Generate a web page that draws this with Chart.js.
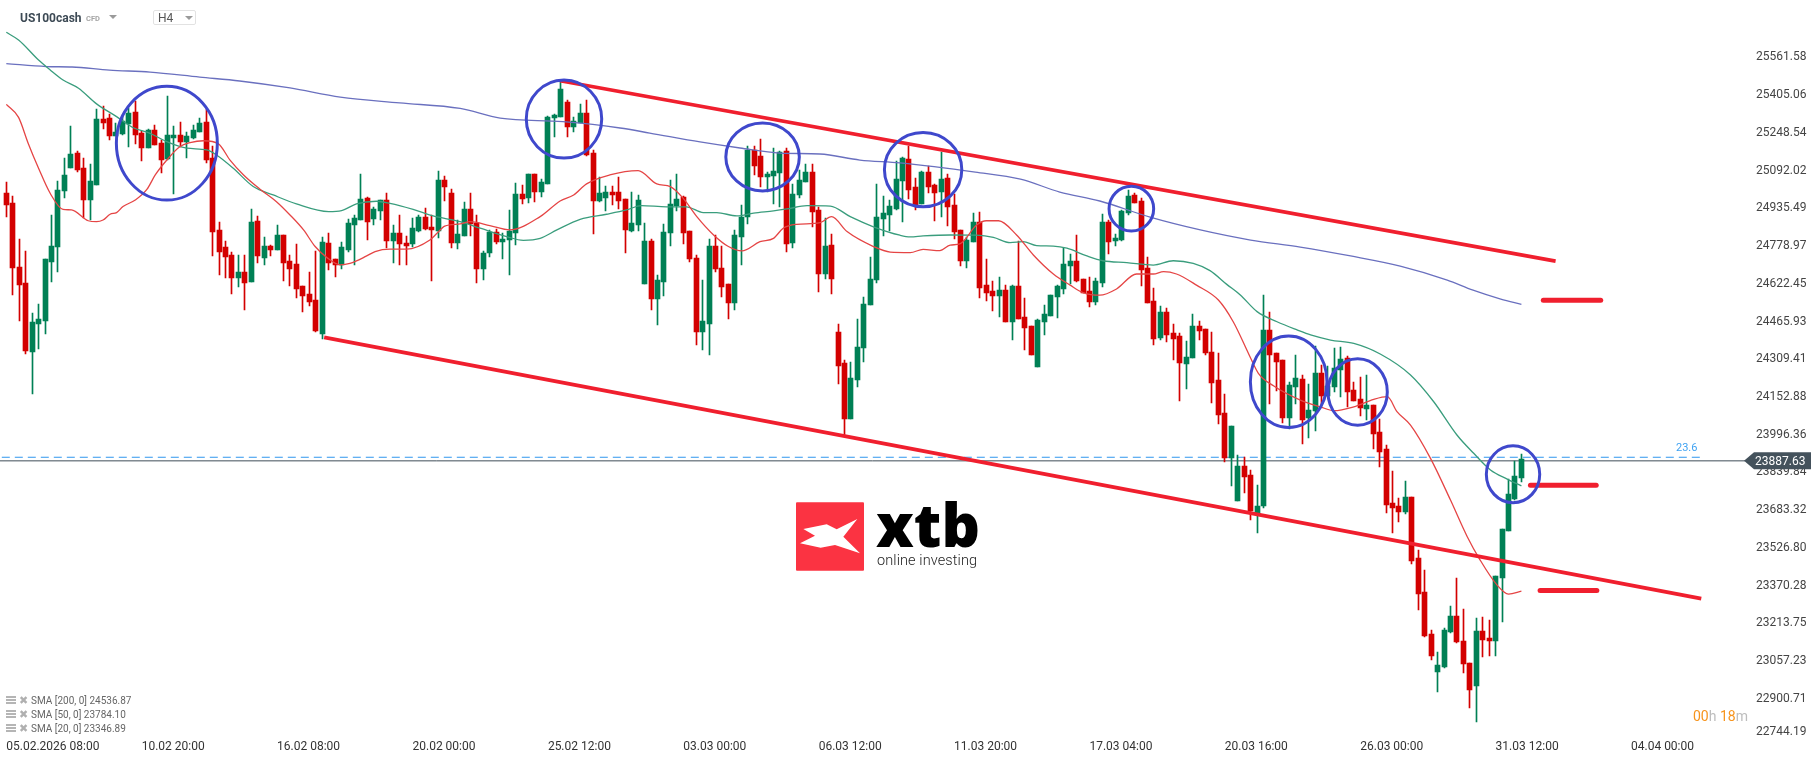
<!DOCTYPE html>
<html>
<head>
<meta charset="utf-8">
<title>US100cash H4</title>
<script src="https://cdn.jsdelivr.net/npm/chart.js@4/dist/chart.umd.min.js"></script>
<style>
    html, body { margin: 0; padding: 0; background: #fff; overflow: hidden; }
    #wrap { position: relative; width: 1816px; height: 761px; font-family: Roboto, sans-serif; }
    #wrap canvas { position: absolute; left: 0; top: 0; }
    .abs { position: absolute; white-space: nowrap; }
    .tri { position: absolute; width: 0; height: 0; border-left: 4px solid transparent; border-right: 4px solid transparent; border-top: 4px solid #9a9a9a; }
    .sma-row { position: absolute; left: 6px; height: 14px; line-height: 14px; font-size: 10px; color: #666; white-space: nowrap; }
    .sma-row .bars { position: absolute; left: 0; top: 2px; width: 10px; height: 2px; background: #b5b5b5; box-shadow: 0 3px 0 #b5b5b5, 0 6px 0 #b5b5b5; }
    .sma-row .cross { position: absolute; left: 13px; top: 0; color: #b0b0b0; font: 11px "DejaVu Sans"; line-height: 14px; }
    .sma-row .txt { position: absolute; left: 25px; top: 0; }
</style>
</head>
<body>
<div id="wrap">
    <canvas id="chart" width="1816" height="761"></canvas>

    <div class="abs" style="left:20px; top:10px; font-size:12px; font-weight:700; color:#3d4a55; line-height:17px;">US100cash</div>
    <div class="abs" style="left:86px; top:14px; font-size:7.5px; font-weight:700; color:#a5a5a5; line-height:10px;">CFD</div>
    <div class="tri" style="left:109px; top:15px;"></div>
    <div class="abs" style="left:153px; top:10px; width:43px; height:15px; border:1px solid #e2e2e2; border-radius:2px; box-sizing:border-box;"></div>
    <div class="abs" style="left:158px; top:11px; font-size:12px; color:#555; line-height:15px;">H4</div>
    <div class="tri" style="left:185px; top:16px;"></div>

    <div class="sma-row" style="top:694px;"><span class="bars"></span><span class="cross">✖</span><span class="txt">SMA [200, 0] 24536.87</span></div>
    <div class="sma-row" style="top:708px;"><span class="bars"></span><span class="cross">✖</span><span class="txt">SMA [50, 0] 23784.10</span></div>
    <div class="sma-row" style="top:722px;"><span class="bars"></span><span class="cross">✖</span><span class="txt">SMA [20, 0] 23346.89</span></div>

    <div class="abs" style="left:1676px; top:441px; font-size:11px; color:#3fa2f2; line-height:14px;">23.6</div>

    <div class="abs" style="left:1693px; top:707px; font-size:14px; line-height:18px; color:#bdbdbd;"><span style="color:#f7941d">00</span>h <span style="color:#f7941d">18</span>m</div>

    <svg class="abs" style="left:796px; top:502px;" width="68" height="69" viewBox="0 0 204 205">
        <rect width="204" height="205" rx="3" fill="#fb3342"/>
        <polygon fill="#fff" points="22,80 92,66 122,81 184,50 142,103 192,153 117,128 74,136 12,123 57,100"/>
    </svg>
    <div class="abs" style="left:876px; top:489px; font-family:'Open Sans',sans-serif; font-size:60px; font-weight:800; color:#000; line-height:70px;">xtb</div>
    <div class="abs" style="left:877px; top:552px; font-size:14.5px; font-weight:300; color:#222; line-height:17px; letter-spacing:0.1px;">online investing</div>
</div>

<script>
// candles, H4
const opens = [
    24999,24958,24692,24626,24340,24456,24468,24713,24775,25008,
    25103,25165,25103,24970,25032,25306,25310,25236,25244,25286,
    25335,25248,25186,25261,25207,25140,25227,25240,25211,25227,
    25252,25294,25144,24846,24775,24742,24647,24671,24630,24883,
    24730,24779,24763,24825,24717,24705,24613,24580,24555,24414,
    24792,24725,24701,24763,24866,24887,24979,24891,24925,24970,
    24800,24833,24792,24788,24842,24900,24858,24842,25053,24999,
    24792,24821,24933,24875,24684,24750,24837,24796,24804,24833,
    24995,24978,25078,25003,25037,25310,25315,25377,25273,25290,
    25331,25165,24966,24978,25003,25003,24974,24842,24866,24622,
    24800,24559,24630,24833,24945,24983,24842,24730,24422,24456,
    24779,24688,24622,24543,24817,24900,25178,25153,25066,25070,
    25082,25173,24792,24991,25045,25086,24929,24663,24783,24422,
    24294,24062,24223,24356,24534,24638,24891,24908,24933,25049,
    25140,25024,24953,25086,25032,25003,25061,24949,24846,24717,
    24796,24879,24617,24593,24572,24597,24464,24613,24485,24447,
    24277,24464,24489,24568,24601,24696,24717,24642,24593,24547,
    24626,24879,24800,24804,24916,24991,24966,24688,24551,24398,
    24505,24418,24406,24290,24315,24447,24435,24339,24223,24086,
    23900,23721,23866,23829,23667,23700,24431,24335,24306,24066,
    24194,24227,24065,24094,24252,24157,24194,24265,24314,24182,
    24144,24103,24119,24007,23937,23713,23700,23675,23738,23485,
    23344,23169,23012,23032,23178,23244,23140,23049,22954,23182,
    23153,23140,23402,23597,23729,23817
];
const highs = [
    25043,24987,24808,24759,24501,24539,24725,24908,25049,25144,
    25277,25174,25144,25120,25348,25360,25327,25290,25323,25352,
    25381,25256,25265,25281,25219,25402,25277,25294,25252,25281,
    25310,25348,25194,24879,24800,24754,24742,24742,24933,24904,
    24817,24784,24866,24825,24742,24788,24613,24671,24759,24817,
    24833,24725,24796,24891,24908,25078,24983,24941,24970,24999,
    24866,24908,24821,24896,24908,24937,24908,25091,25070,25016,
    24887,24962,24999,24908,24759,24846,24850,24833,24929,25041,
    25032,25078,25078,25057,25319,25327,25460,25385,25315,25368,
    25385,25178,25066,25028,25028,25066,24974,25003,24991,24875,
    24808,24659,24871,25053,25078,24987,24842,24742,24638,24808,
    24825,24779,24622,24846,24949,25194,25194,25223,25086,25186,
    25173,25186,25037,25095,25120,25120,24941,24895,24829,24456,
    24306,24298,24476,24568,24734,25037,24987,24970,25132,25150,
    25194,25061,25090,25111,25036,25169,25078,24995,24846,24817,
    24916,24920,24725,24634,24651,24617,24617,24800,24563,24447,
    24476,24534,24576,24617,24771,24746,24825,24642,24651,24646,
    24912,24887,24829,24929,25012,24999,24978,24734,24605,24530,
    24522,24456,24418,24385,24497,24468,24435,24422,24335,24165,
    24032,23912,23904,23850,23788,24576,24505,24335,24306,24215,
    24327,24244,24207,24364,24285,24281,24356,24360,24323,24215,
    24236,24244,24119,24061,23953,23846,23734,23804,23738,23518,
    23435,23186,23095,23194,23285,23402,23273,23049,23236,23240,
    23227,23410,23605,23812,23887,23916
];
const lows = [
    24901,24576,24468,24331,24165,24352,24414,24630,24671,24979,
    25103,25086,24896,24887,25032,25265,25219,25236,25240,25190,
    25203,25132,25186,25198,25082,25136,24995,25190,25144,25223,
    25252,25124,24738,24659,24647,24580,24609,24514,24630,24710,
    24701,24738,24763,24634,24613,24564,24506,24530,24423,24393,
    24680,24651,24684,24754,24701,24887,24804,24866,24887,24771,
    24709,24701,24701,24775,24837,24846,24634,24813,24966,24771,
    24767,24821,24821,24626,24638,24734,24788,24725,24659,24783,
    24954,24958,24962,24983,25037,25232,25315,25232,25252,25290,
    25153,24829,24962,24925,24949,24933,24750,24837,24842,24622,
    24514,24452,24572,24779,24925,24788,24713,24369,24348,24327,
    24671,24568,24476,24514,24700,24871,25074,25024,25003,24954,
    24941,24754,24771,24978,25045,24858,24588,24642,24580,24207,
    23991,24062,24194,24298,24534,24626,24821,24842,24929,24879,
    24974,24929,24953,24999,24883,24900,24862,24808,24696,24688,
    24796,24563,24551,24510,24485,24464,24389,24476,24348,24327,
    24277,24410,24489,24481,24580,24622,24630,24584,24526,24534,
    24609,24746,24779,24800,24908,24958,24613,24543,24368,24389,
    24381,24306,24136,24186,24315,24389,24327,24128,24041,23883,
    23783,23721,23754,23642,23588,23692,24124,24177,24045,24020,
    24124,23958,23982,24012,24119,24154,24173,24153,24111,24136,
    24074,24057,23937,23862,23671,23588,23634,23667,23460,23269,
    23157,23061,22929,23028,23173,23132,23007,22862,22804,23074,
    23078,23078,23219,23597,23725,23800
];
const closes = [
    24949,24688,24618,24344,24464,24476,24725,24779,25012,25074,
    25161,25095,24970,25049,25306,25290,25236,25252,25298,25331,
    25240,25186,25261,25198,25136,25240,25240,25211,25236,25261,
    25290,25136,24837,24754,24734,24647,24671,24626,24879,24738,
    24779,24763,24825,24709,24684,24601,24572,24547,24427,24796,
    24709,24701,24775,24875,24896,24974,24879,24933,24970,24800,
    24833,24788,24779,24854,24900,24850,24846,25053,25024,24792,
    24829,24933,24871,24684,24750,24837,24796,24808,24842,24995,
    24974,25078,25003,25045,25315,25323,25431,25273,25298,25331,
    25157,24966,24999,25003,24991,24966,24846,24875,24970,24800,
    24559,24638,24837,24954,24974,24833,24725,24422,24468,24779,
    24684,24609,24543,24825,24900,25178,25111,25066,25078,25090,
    25169,24788,24995,25053,25086,24920,24663,24779,24642,24281,
    24062,24232,24360,24539,24642,24900,24916,24945,25057,25144,
    25012,24949,25086,25024,24999,25057,24941,24837,24717,24804,
    24879,24605,24584,24572,24597,24464,24613,24476,24439,24327,
    24472,24497,24576,24613,24705,24717,24634,24584,24547,24634,
    24879,24796,24812,24924,24987,24958,24680,24543,24393,24505,
    24410,24393,24294,24319,24447,24427,24335,24211,24078,23900,
    24032,23866,23821,23680,23700,24431,24327,24298,24065,24203,
    24232,24057,24099,24252,24157,24198,24273,24310,24173,24136,
    24107,24119,23999,23924,23704,23692,23675,23738,23472,23335,
    23161,23078,23041,23186,23244,23136,23045,22937,23182,23144,
    23140,23410,23605,23750,23825,23895
];

// moving averages: candle position and value, read at the bends
const sma200Idx = [
    0,6.2,10.2,16,22.3,30,36.2,44,51.8,61,
    70.4,76.6,86.3,95.2,99.8,107.6,113.8,120,126.2,132.4,
    138.6,150.3,157.3,163.4,169.6,177.4,185.2,193,200.7,208.5,
    216.2,223.5,227.5,231.8,235
];
const sma200 = [
    25536,25524,25522,25509,25501,25480,25464,25435,25397,25373,
    25350,25310,25295,25269,25248,25211,25186,25165,25161,25136,
    25124,25086,25057,25003,24966,24899,24846,24804,24775,24738,
    24696,24638,24596,24559,24537
];
const sma50Idx = [
    0,1.9,5,6.8,8.8,11.2,14,17.1,19.7,22.3,
    24.9,28,31.1,32.6,35.2,38.3,41.4,45,50,52,
    54.3,57.4,59.5,63.1,66.2,70.4,73.5,77.6,80.2,82.8,
    85.4,89,93.1,96.2,98.5,102.4,105.5,108.1,110.2,113.3,
    115.9,119,121.1,124.2,127.8,130.9,134.5,138.6,140.2,142.2,
    146.4,150.5,153.1,155.7,157.7,159.8,162.4,164.5,167.6,170.1,
    173.8,177.9,181,184.1,186.7,189.3,191.4,194,197.1,200.2,
    202.3,205.4,209,213.1,217.8,221.4,225,227.6,230.2,232.8,235
];
const sma50 = [
    25666,25634,25551,25510,25468,25434,25369,25316,25270,25247,
    25212,25185,25178,25157,25102,25026,24991,24954,24922,24926,
    24954,24965,24956,24931,24904,24880,24853,24818,24803,24811,
    24846,24890,24911,24929,24947,24942,24942,24918,24918,24904,
    24916,24925,24933,24947,24945,24901,24859,24824,24817,24821,
    24825,24824,24815,24793,24797,24781,24779,24770,24738,24718,
    24710,24700,24718,24707,24677,24620,24576,24507,24465,24431,
    24410,24389,24375,24331,24244,24133,23995,23919,23850,23812,23784
];
const sma20Idx = [
    0,1.9,3.4,5,6.8,8.8,10.1,12.7,14,15,
    16.1,17.1,18.1,20,21.8,23.1,24.9,26.9,28.5,30.6,
    32.9,34.7,36.8,39.3,41.9,44,46.1,47.9,49.7,51.8,
    53.3,55.9,57.2,59.5,62.1,65.7,66.8,68,70.4,71.9,
    75,78.1,82.8,85.9,88,90,93.6,98,100.9,103,
    105,107.1,109.7,112,114.1,116.9,119,120.5,122.6,126.2,
    128,130.4,134.5,137.1,140.2,142.2,144.8,146.4,147.9,150.5,
    152,153.9,156.7,159.3,162.4,165,167,169.6,172.2,175.3,
    177.9,179.5,181.5,184.6,188,190.3,192.9,194.2,196.6,200.7,
    203.8,205.9,209,212.1,214.2,215.7,217.8,220.9,224,226.6,
    228.6,231.2,233,235
];
const sma20 = [
    25367,25313,25205,25102,24998,24931,24929,24884,24880,24887,
    24911,24918,24943,24970,25014,25074,25136,25191,25208,25216,
    25203,25136,25074,25016,24963,24908,24846,24777,24732,24701,
    24707,24738,24756,24766,24766,24804,24832,24862,24871,24880,
    24864,24846,24901,24966,24991,25037,25074,25092,25037,25026,
    24977,24901,24825,24777,24759,24797,24811,24853,24869,24876,
    24901,24839,24777,24754,24752,24765,24760,24783,24788,24866,
    24884,24884,24825,24742,24663,24617,24586,24575,24601,24663,
    24663,24673,24663,24617,24555,24465,24320,24251,24198,24140,
    24112,24096,24112,24143,24154,24092,24036,23898,23725,23573,
    23476,23373,23335,23347
];

// drawn objects: channel, target levels, price lines
const upperLineIdx = [85.9, 240.3];
const upperLine = [25465, 24716];
const lowerLineIdx = [49.3, 262.9];
const lowerLine = [24400, 23316];
const levelIdx = [[238.4, 247.3], [236.4, 246.6], [237.9, 246.7]];
const levels = [24554, 23786, 23350];
const priceNow = 23887.63;
const fibo236 = 23902.6;
const fiboEndIdx = 262.9;

// hand drawn rings on the chart: centre and radii in candles / price
const ringIdx = [24.9, 86.5, 117.3, 142.2, 174.5, 198.9, 209.6, 233.7];
const ringPrice = [25206, 25306, 25149, 25096, 24934, 24216, 24173, 23832];
const ringRadIdx = [7.83, 5.85, 5.7, 6, 3.46, 5.94, 4.6, 4.14];
const ringRadPrice = [236, 162, 141, 154, 93, 190, 138, 118];

const yTickValues = [
    25561.58,25405.06,25248.54,25092.02,24935.49,24778.97,24622.45,24465.93,24309.41,24152.88,
    23996.36,23839.84,23683.32,23526.80,23370.28,23213.75,23057.23,22900.71,22744.19
];
const xTickIdx = [0,21,42,63,84,105,126,147,168,189,210,231,252];
const xTickLabels = [
    '05.02.2026 08:00','10.02 20:00','16.02 08:00','20.02 00:00','25.02 12:00','03.03 00:00','06.03 12:00',
    '11.03 20:00','17.03 04:00','20.03 16:00','26.03 00:00','31.03 12:00','04.04 00:00'
];

const upColor = '#008055';
const downColor = '#d30000';
const lineRed = '#f01f2e';

Chart.defaults.font.family = 'Roboto, sans-serif';
Chart.defaults.font.size = 12;

function pairs(xs, ys) {
    return xs.map((x, i) => ({ x: x, y: ys[i] }));
}

const candleColors = opens.map((o, i) => closes[i] >= o ? upColor : downColor);

// snap the bars to whole pixels like the original platform does
const snapBars = {
    id: 'snapBars',
    beforeDatasetsDraw(chart) {
        chart.getSortedVisibleDatasetMetas().forEach(meta => {
            if (meta.type !== 'bar') return;
            meta.data.forEach(el => {
                el.x = Math.floor(el.x) + 0.5;
                el.y = Math.round(el.y);
                el.base = Math.round(el.base);
            });
        });
    }
};

const rings = {
    id: 'rings',
    afterDatasetsDraw(chart) {
        const { ctx, scales: { x, y } } = chart;
        ctx.save();
        ctx.strokeStyle = '#3f48cc';
        ctx.lineWidth = 3;
        ringIdx.forEach((idx, i) => {
            const cx = x.getPixelForValue(idx);
            const cy = y.getPixelForValue(ringPrice[i]);
            const rx = x.getPixelForValue(idx + ringRadIdx[i]) - cx;
            const ry = cy - y.getPixelForValue(ringPrice[i] + ringRadPrice[i]);
            ctx.beginPath();
            ctx.ellipse(cx, cy, rx, ry, 0, 0, Math.PI * 2);
            ctx.stroke();
        });
        ctx.restore();
    }
};

// price tag on the axis and the last tick label, which the platform pushes up
const axisExtras = {
    id: 'axisExtras',
    afterDraw(chart) {
        const { ctx, scales: { y } } = chart;
        const py = y.getPixelForValue(priceNow);
        ctx.save();
        ctx.font = '12px Roboto';
        ctx.textBaseline = 'middle';
        ctx.textAlign = 'left';
        ctx.fillStyle = '#444';
        ctx.fillText(yTickValues[yTickValues.length - 1].toFixed(2), 1756, 732);
        ctx.fillStyle = '#44525c';
        ctx.beginPath();
        ctx.moveTo(1744, py);
        ctx.lineTo(1754, py - 8.5);
        ctx.lineTo(1811, py - 8.5);
        ctx.lineTo(1811, py + 8.5);
        ctx.lineTo(1754, py + 8.5);
        ctx.closePath();
        ctx.fill();
        ctx.fillStyle = '#fff';
        ctx.fillText(priceNow.toFixed(2), 1755, py + 1);
        ctx.restore();
    }
};

const overlayLine = (data, color, width, order, extra) => Object.assign({
    type: 'line',
    data: data,
    borderColor: color,
    borderWidth: width,
    pointRadius: 0,
    fill: false,
    order: order
}, extra || {});

// chart.js reserves room for the outer tick labels, the platform does not
const noScalePadding = scale => {
    scale.paddingTop = 0;
    scale.paddingBottom = 0;
    scale.paddingLeft = 0;
    scale.paddingRight = 0;
};

new Chart(document.getElementById('chart'), {
    type: 'bar',
    data: {
        datasets: [
            // price line and fibo level sit behind the candles
            overlayLine(pairs([-0.98, 269.7], [priceNow, priceNow]), '#3f4d58', 1, 9),
            overlayLine(pairs([-0.7, fiboEndIdx], [fibo236, fibo236]), '#2f96ee', 1, 8, { borderDash: [8, 5] }),
            {
                label: 'wick',
                data: lows.map((l, i) => ({ x: i, y: [l, highs[i]] })),
                backgroundColor: candleColors,
                barThickness: 1,
                grouped: false,
                order: 7
            },
            {
                label: 'body',
                data: opens.map((o, i) => ({ x: i, y: [Math.min(o, closes[i]), Math.max(o, closes[i])] })),
                backgroundColor: candleColors,
                barThickness: 5,
                grouped: false,
                order: 6
            },
            overlayLine(pairs(sma200Idx, sma200), '#6a70bf', 1.3, 5, { cubicInterpolationMode: 'monotone' }),
            overlayLine(pairs(sma50Idx, sma50), '#3a9d7d', 1.3, 4, { cubicInterpolationMode: 'monotone' }),
            overlayLine(pairs(sma20Idx, sma20), '#e54545', 1.3, 3, { cubicInterpolationMode: 'monotone' }),
            overlayLine(pairs(upperLineIdx, upperLine), lineRed, 3.8, 2),
            overlayLine(pairs(lowerLineIdx, lowerLine), lineRed, 3.8, 2),
            overlayLine(pairs(levelIdx[0], [levels[0], levels[0]]), lineRed, 5, 1, { borderCapStyle: 'round' }),
            overlayLine(pairs(levelIdx[1], [levels[1], levels[1]]), lineRed, 5, 1, { borderCapStyle: 'round' }),
            overlayLine(pairs(levelIdx[2], [levels[2], levels[2]]), lineRed, 5, 1, { borderCapStyle: 'round' })
        ]
    },
    options: {
        responsive: false,
        animation: false,
        devicePixelRatio: 1,
        events: [],
        layout: { padding: 0 },
        plugins: { legend: { display: false }, tooltip: { enabled: false } },
        scales: {
            x: {
                type: 'linear',
                offset: false,
                min: -0.98,
                max: 269.68,
                grid: { display: false, drawTicks: false },
                border: { display: false },
                afterBuildTicks: scale => { scale.ticks = xTickIdx.map(v => ({ value: v })); },
                afterFit: scale => { scale.height = 24.6; noScalePadding(scale); },
                ticks: {
                    autoSkip: false,
                    maxRotation: 0,
                    align: 'start',
                    padding: 3,
                    color: '#333',
                    font: { size: 12 },
                    callback: (v, i) => xTickLabels[i]
                }
            },
            y: {
                position: 'right',
                min: 22744.19,
                max: 25800.1,
                grid: { display: false, drawTicks: false },
                border: { display: false },
                afterBuildTicks: scale => { scale.ticks = yTickValues.map(v => ({ value: v })); },
                afterFit: scale => { scale.width = 71; noScalePadding(scale); },
                ticks: {
                    autoSkip: false,
                    padding: 11,
                    color: '#444',
                    font: { size: 12 },
                    callback: (v, i) => i === yTickValues.length - 1 ? '' : yTickValues[i].toFixed(2)
                }
            }
        }
    },
    plugins: [snapBars, rings, axisExtras]
});
</script>
</body>
</html>
